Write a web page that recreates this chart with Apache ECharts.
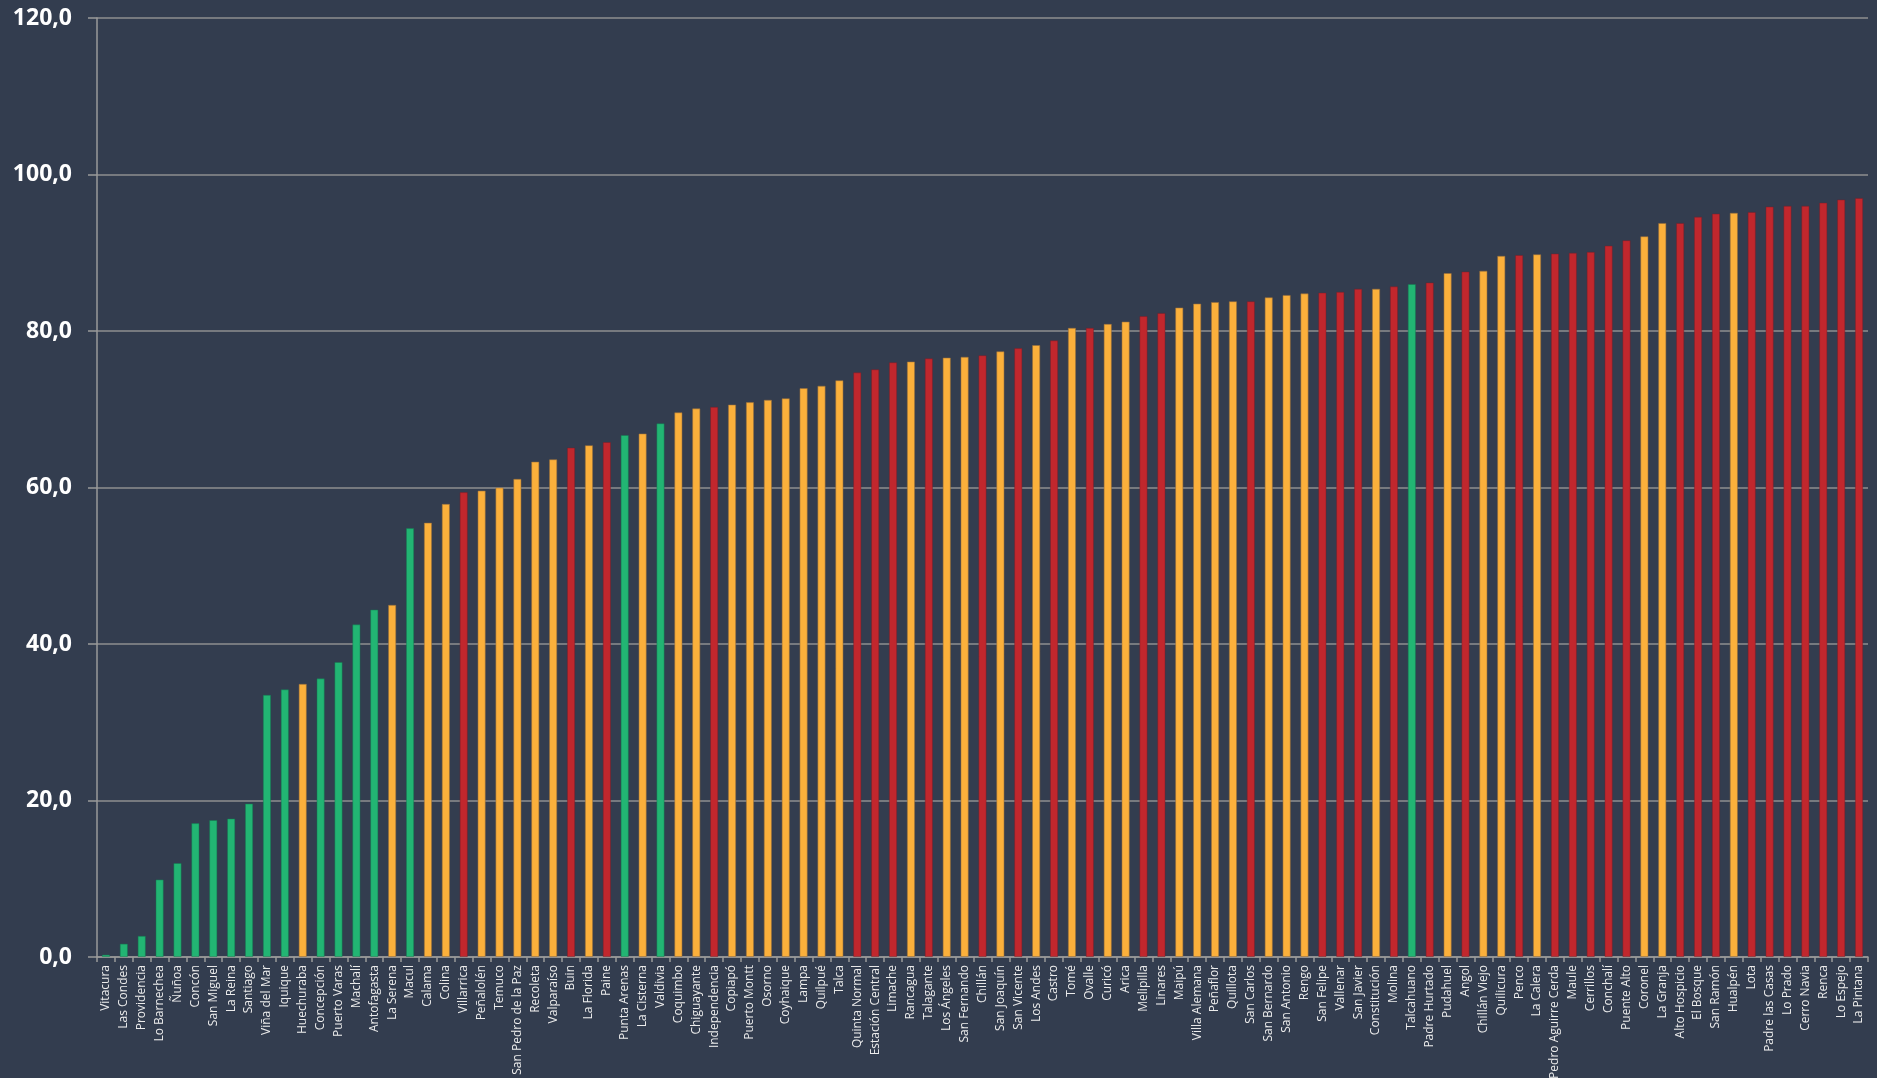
<!DOCTYPE html>
<html>
<head>
<meta charset="utf-8">
<script src="https://cdn.jsdelivr.net/npm/echarts@6/dist/echarts.min.js"></script>
<style>
html,body{margin:0;padding:0;background:#333d4f;}
#chart{width:1877px;height:1078px;}
</style>
</head>
<body>
<div id="chart"></div>
<script>
const categories = ["Vitacura","Las Condes","Providencia","Lo Barnechea","Ñuñoa","Concón","San Miguel","La Reina","Santiago","Viña del Mar","Iquique","Huechuraba","Concepción","Puerto Varas","Machalí","Antofagasta","La Serena","Macul","Calama","Colina","Villarrica","Peñalolén","Temuco","San Pedro de la Paz","Recoleta","Valparaíso","Buin","La Florida","Paine","Punta Arenas","La Cisterna","Valdivia","Coquimbo","Chiguayante","Independencia","Copiapó","Puerto Montt","Osorno","Coyhaique","Lampa","Quilpué","Talca","Quinta Normal","Estación Central","Limache","Rancagua","Talagante","Los Ángeles","San Fernando","Chillán","San Joaquín","San Vicente","Los Andes","Castro","Tomé","Ovalle","Curicó","Arica","Melipilla","Linares","Maipú","Villa Alemana","Peñaflor","Quillota","San Carlos","San Bernardo","San Antonio","Rengo","San Felipe","Vallenar","San Javier","Constitución","Molina","Talcahuano","Padre Hurtado","Pudahuel","Angol","Chillán Viejo","Quilicura","Penco","La Calera","Pedro Aguirre Cerda","Maule","Cerrillos","Conchalí","Puente Alto","Coronel","La Granja","Alto Hospicio","El Bosque","San Ramón","Hualpén","Lota","Padre las Casas","Lo Prado","Cerro Navia","Renca","Lo Espejo","La Pintana"];

const values = [0.3,1.7,2.7,9.9,12.0,17.1,17.5,17.7,19.6,33.5,34.2,34.9,35.6,37.7,42.5,44.4,45.0,54.8,55.5,57.9,59.4,59.6,60.0,61.1,63.3,63.6,65.1,65.4,65.8,66.7,66.9,68.2,69.6,70.1,70.3,70.6,70.9,71.2,71.4,72.7,73.0,73.7,74.7,75.1,76.0,76.1,76.5,76.6,76.7,76.9,77.4,77.8,78.2,78.8,80.4,80.4,80.9,81.2,81.9,82.3,83.0,83.5,83.7,83.8,83.8,84.3,84.6,84.8,84.9,85.0,85.4,85.4,85.7,86.0,86.2,87.4,87.6,87.7,89.6,89.7,89.8,89.9,90.0,90.1,90.9,91.6,92.1,93.8,93.8,94.6,95.0,95.1,95.2,95.9,96.0,96.0,96.4,96.8,97.0];

// G = verde, O = amarillo/naranjo, R = rojo
const groups = ["G","G","G","G","G","G","G","G","G","G","G","O","G","G","G","G","O","G","O","O","R","O","O","O","O","O","R","O","R","G","O","G","O","O","R","O","O","O","O","O","O","O","R","R","R","O","R","O","O","R","O","R","O","R","O","R","O","O","R","R","O","O","O","O","R","O","O","O","R","R","R","O","R","G","R","O","R","O","O","R","O","R","R","R","R","R","O","O","R","R","R","O","R","R","R","R","R","R","R"];

const yTicks = [0,20,40,60,80,100,120];

const palette = {G:"#22b573", O:"#fbb03b", R:"#c1272d"};
const borders = {G:"rgba(20,120,80,0.6)", O:"rgba(150,110,60,0.7)", R:"rgba(120,30,40,0.6)"};

const chart = echarts.init(document.getElementById('chart'));
chart.setOption({
  backgroundColor: "#333d4f",
  animation: false,
  grid: {left: 97, right: 9, top: 18, bottom: 121, containLabel: false, outerBoundsMode: 'none'},
  xAxis: {
    type: 'category',
    data: categories,
    boundaryGap: true,
    axisLine: {show: true, lineStyle: {color: "#9a9a9a", width: 1.5}},
    axisTick: {show: true, length: 5, alignWithLabel: false, lineStyle: {color: "#9a9a9a", width: 1.5}},
    axisLabel: {
      interval: 0, rotate: 90, color: "#ececec", fontSize: 12,
      fontFamily: "Open Sans", margin: 8
    },
    splitLine: {show: false}
  },
  yAxis: {
    type: 'value',
    min: yTicks[0], max: yTicks[yTicks.length-1], interval: 20,
    axisLine: {show: true, lineStyle: {color: "#9a9a9a", width: 1.5}},
    axisTick: {show: true, inside: false, length: 9, lineStyle: {color: "#9a9a9a", width: 1.5}},
    axisLabel: {
      color: "#ffffff", fontSize: 23, fontWeight: "bold", fontFamily: "Open Sans",
      margin: 25,
      formatter: v => v.toFixed(1).replace('.', ',')
    },
    splitLine: {show: true, lineStyle: {color: "#8f8f8f", width: 1.5}}
  },
  series: [{
    type: 'bar',
    barWidth: '45%',
    data: values.map((v, i) => ({
      value: v,
      itemStyle: {color: palette[groups[i]], borderColor: borders[groups[i]], borderWidth: 0.8}
    }))
  }]
});
</script>
</body>
</html>
